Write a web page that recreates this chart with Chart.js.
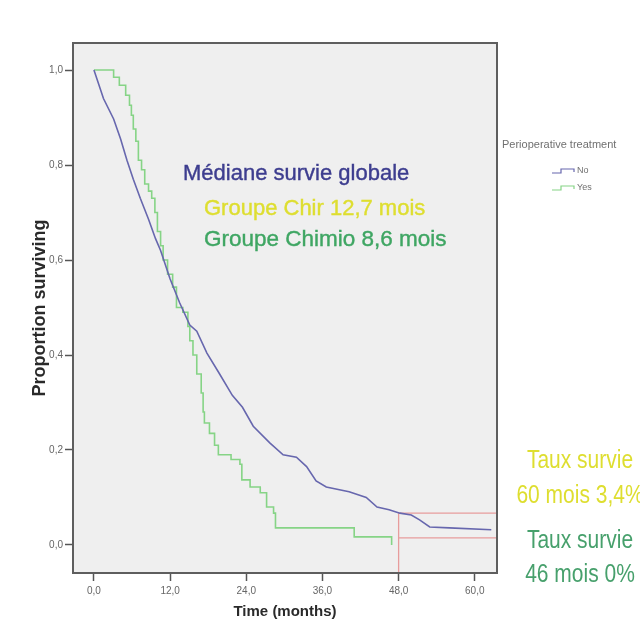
<!DOCTYPE html>
<html>
<head>
<meta charset="utf-8">
<script src="https://cdn.jsdelivr.net/npm/chart.js@4"></script>
<style>
  html, body { margin: 0; padding: 0; background: #fff; }
  canvas { display: block; }
</style>
</head>
<body>
<canvas id="km" width="640" height="626"></canvas>
<script>
// Kaplan-Meier curves (months, proportion surviving)
const noTime = [0, 1.5, 3.1, 4.2, 5.2, 6.2, 7.3, 8.6, 9.7, 10.5, 12.0, 13.5, 15.1, 16.2, 17.8, 19.8, 21.8, 23.4, 25.1, 27.7, 29.8, 31.9, 33.5, 35.0, 36.6, 40.2, 42.9, 44.6, 46.5, 48.2, 50.0, 51.3, 52.9, 56.0, 62.6];
const noSurv = [1.0, 0.94, 0.897, 0.855, 0.81, 0.77, 0.73, 0.686, 0.645, 0.62, 0.56, 0.51, 0.463, 0.45, 0.404, 0.36, 0.315, 0.29, 0.25, 0.215, 0.19, 0.185, 0.165, 0.135, 0.122, 0.112, 0.10, 0.08, 0.074, 0.067, 0.063, 0.053, 0.038, 0.036, 0.032];

const yesTime = [0, 3.1, 4.0, 5.0, 5.6, 5.9, 6.2, 6.6, 7.0, 7.5, 8.0, 8.6, 9.1, 9.6, 10.0, 10.5, 10.9, 11.6, 12.4, 13.0, 14.0, 14.8, 15.1, 15.6, 16.2, 16.9, 17.2, 17.4, 18.2, 19.0, 19.6, 21.6, 23.0, 23.3, 24.6, 26.2, 27.2, 28.3, 28.6, 41.0, 46.9];
const yesSurv = [1.0, 0.985, 0.968, 0.947, 0.926, 0.905, 0.876, 0.85, 0.81, 0.79, 0.76, 0.745, 0.73, 0.70, 0.66, 0.63, 0.60, 0.57, 0.543, 0.50, 0.49, 0.46, 0.43, 0.40, 0.36, 0.32, 0.28, 0.257, 0.235, 0.21, 0.19, 0.18, 0.17, 0.137, 0.122, 0.11, 0.08, 0.067, 0.036, 0.017, 0.0];

// red reference marks at 48 months
const markTime = 48;
const markLevels = [0.067, 0.015];

// axes
const xTicks = [0, 12, 24, 36, 48, 60];
const yTicks = [0, 0.2, 0.4, 0.6, 0.8, 1.0];
const xRange = [-3.3, 63.5];
const yRange = [-0.059, 1.057];

const toPoints = (xs, ys) => xs.map((x, i) => ({ x: x, y: ys[i] }));
const comma = v => Number(v).toFixed(1).replace('.', ',');

const datasets = [
  { label: 'No', data: toPoints(noTime, noSurv), borderColor: '#6767ae', borderWidth: 1.6, pointRadius: 0, tension: 0 },
  { label: 'Yes', data: toPoints(yesTime, yesSurv), borderColor: '#86d486', borderWidth: 1.6, pointRadius: 0, stepped: true },
  { label: 'mark', data: [{ x: markTime, y: yRange[0] }, { x: markTime, y: markLevels[0] }], borderColor: '#e79c9c', borderWidth: 1.3, pointRadius: 0 }
];
markLevels.forEach(lvl => {
  datasets.push({ label: 'mark', data: [{ x: markTime, y: lvl }, { x: xRange[1], y: lvl }], borderColor: '#e79c9c', borderWidth: 1.3, pointRadius: 0 });
});

// writes a note, optionally a little heavier like the pasted-in slide text
function note(ctx, text, x, y, color, weight) {
  ctx.fillStyle = color;
  ctx.fillText(text, x, y);
  if (weight) {
    ctx.strokeStyle = color;
    ctx.lineWidth = weight;
    ctx.strokeText(text, x, y);
  }
}

// background, frame, notes and the SPSS style legend
const decor = {
  id: 'decor',
  beforeDraw(chart) {
    const { ctx, chartArea: a } = chart;
    ctx.save();
    ctx.fillStyle = '#ffffff';
    ctx.fillRect(0, 0, chart.width, chart.height);
    ctx.fillStyle = '#efefef';
    ctx.fillRect(a.left, a.top, a.right - a.left, a.bottom - a.top);
    ctx.restore();
  },
  afterDraw(chart) {
    const { ctx, chartArea: a } = chart;
    ctx.save();
    ctx.strokeStyle = '#5e5e5e';
    ctx.lineWidth = 2;
    ctx.strokeRect(a.left, a.top, a.right - a.left, a.bottom - a.top);

    ctx.textBaseline = 'alphabetic';
    ctx.textAlign = 'left';
    ctx.font = '22px "Liberation Sans", Arial, sans-serif';
    note(ctx, 'Médiane survie globale', 183, 180, '#3d3d8f', 0.4);
    note(ctx, 'Groupe Chir 12,7 mois', 204, 215, '#dede30', 0.4);
    ctx.font = '22.5px "Liberation Sans", Arial, sans-serif';
    note(ctx, 'Groupe Chimio 8,6 mois', 204, 246, '#3fa663', 0.4);

    // right hand notes, slightly condensed
    const side = [
      ['Taux survie', 468, '#dede30'],
      ['60 mois 3,4%', 503, '#dede30'],
      ['Taux survie', 548, '#47a06c'],
      ['46 mois 0%', 582, '#47a06c']
    ];
    ctx.font = '25px "Liberation Sans", Arial, sans-serif';
    ctx.textAlign = 'center';
    side.forEach(([t, y, c]) => {
      ctx.save();
      ctx.translate(580, y);
      ctx.scale(0.84, 1);
      note(ctx, t, 0, 0, c, 0);
      ctx.restore();
    });

    // legend
    ctx.textAlign = 'left';
    ctx.textBaseline = 'middle';
    ctx.fillStyle = '#707070';
    ctx.font = '11px "Liberation Sans", Arial, sans-serif';
    ctx.fillText('Perioperative treatment', 502, 145);
    ctx.font = '9px "Liberation Sans", Arial, sans-serif';
    [['No', 170, '#6767ae'], ['Yes', 187, '#86d486']].forEach(([t, y, c]) => {
      ctx.strokeStyle = c;
      ctx.lineWidth = 1.2;
      ctx.beginPath();
      ctx.moveTo(552, y + 3);
      ctx.lineTo(561, y + 3);
      ctx.lineTo(561, y - 1);
      ctx.lineTo(574, y - 1);
      ctx.lineTo(574, y + 2);
      ctx.stroke();
      ctx.fillStyle = '#707070';
      ctx.fillText(t, 577, y + 1);
    });
    ctx.restore();
  }
};

const tickFont = { family: '"Liberation Sans", Arial, sans-serif', size: 10 };
const family = '"Liberation Sans", Arial, sans-serif';

new Chart(document.getElementById('km').getContext('2d'), {
  type: 'line',
  data: { datasets: datasets },
  options: {
    responsive: false,
    animation: false,
    layout: { padding: { top: 43, right: 143, left: 0, bottom: 0 } },
    plugins: { legend: { display: false }, tooltip: { enabled: false } },
    scales: {
      x: {
        type: 'linear',
        min: xRange[0],
        max: xRange[1],
        afterBuildTicks: s => { s.ticks = xTicks.map(v => ({ value: v })); },
        afterFit: s => { s.height = 53; },
        ticks: { callback: comma, font: tickFont, color: '#666', padding: 4, maxRotation: 0, autoSkip: false },
        grid: { drawOnChartArea: false, drawTicks: true, tickLength: 8, tickColor: '#555', tickWidth: 1.5 },
        border: { display: false },
        title: { display: true, text: 'Time (months)', font: { family: family, size: 15, weight: 'bold' }, color: '#2a2a2a', padding: { top: 0, bottom: 5 } }
      },
      y: {
        min: yRange[0],
        max: yRange[1],
        afterBuildTicks: s => { s.ticks = yTicks.map(v => ({ value: v })); },
        afterFit: s => { s.width = 73; },
        ticks: { callback: comma, font: tickFont, color: '#666', padding: 2 },
        grid: { drawOnChartArea: false, drawTicks: true, tickLength: 8, tickColor: '#555', tickWidth: 1.5 },
        border: { display: false },
        title: { display: true, text: 'Proportion surviving', font: { family: family, size: 18, weight: 'bold' }, color: '#2a2a2a', padding: { top: 29, bottom: 0 } }
      }
    }
  },
  plugins: [decor]
});
</script>
</body>
</html>
